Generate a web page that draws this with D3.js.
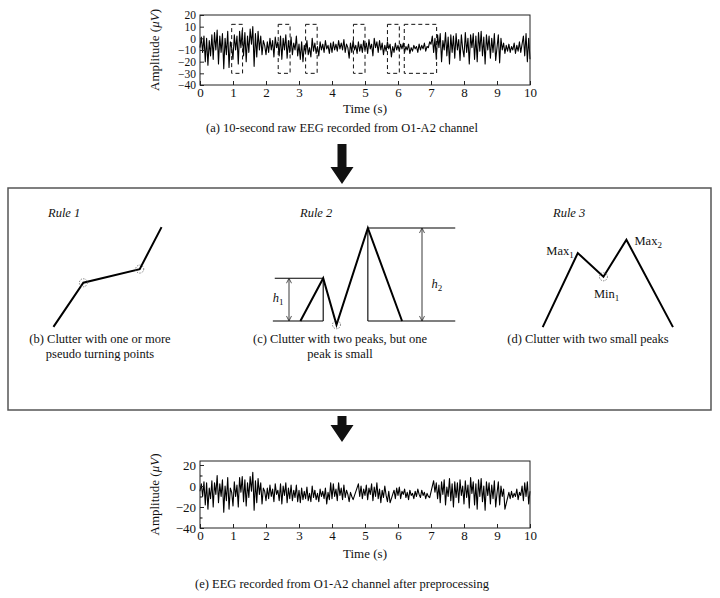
<!DOCTYPE html>
<html><head><meta charset="utf-8">
<script src="https://cdn.jsdelivr.net/npm/d3@7"></script>
<style>body{margin:0;background:#fff}</style>
</head><body>
<script>
// ---------- DATA ----------
const timeTicks = [0,1,2,3,4,5,6,7,8,9,10];
const rawYTicks = [-40,-30,-20,-10,0,10,20];
const cleanYTicks = [-40,-20,0,20];
const cleanYMinor = [-30,-10,10];
const sampleStep = 0.04; // seconds between samples

// (a) raw EEG, µV, one value per 0.04 s
const rawEEG = [
 -8, 1, -12, 2, -20, 0, -23, -2, -15, 3, -18, 5, -10, 7, -22, 2, -12, 4, -26, 0, -14, 6, -25, -3, -8,
 -18, 3, -10, 2, -22, 6, -8, 7, -15, 5, -20, 2, -12, 8, -5, 10, -24, 4, -16, 6, -10, 2, -14, -2, -6,
 -14, -3, -12, 0, -10, -2, -16, 1, -8, -3, -15, 2, -18, 0, -10, 3, -17, -2, -12, 1, -14, -4, -10, 2, -15,
 -5, -18, -3, -20, -6, -12, -2, -14, -8, -16, 0, -11, -4, -13, -7, -15, -3, -10, -5, -12, -2, -9, -6, -13, -4,
 -12, -3, -10, -5, -11, -2, -9, -4, -10, -1, -12, -5, -8, -17, -4, -12, -2, -10, -6, -13, -3, -11, -5, -12, -2,
 -10, -4, -13, -1, -9, -5, -15, 0, -8, -3, -12, -2, -10, -4, -14, -6, -11, -3, -9, -5, -16, -7, -12, -4, -10,
 -6, -11, -5, -9, -4, -12, -7, -10, -5, -13, -8, -11, -6, -9, -7, -12, -5, -10, -6, -9, -4, -11, -7, -8, -3,
 -5, 2, -12, 0, -18, 3, -8, 4, -20, -2, -10, 5, -15, 1, -22, 3, -12, 2, -17, 4, -10, -1, -19, 3, -9,
 -16, 5, -12, 0, -22, 3, -8, 4, -18, 2, -20, 5, -11, 6, -15, 1, -22, 3, -10, 2, -17, 0, -12, 4, -19,
 -8, 3, -21, 0, -10, -4, -13, -6, -11, -5, -12, -7, -10, -4, -13, -6, -11, -3, -12, -5, 2, -15, 4, -20, 0,
 -18
];

// clutter regions marked on the raw EEG (s) and their amplitude span (µV)
const clutterStart = [0.96, 2.37, 3.20, 4.65, 5.68, 6.19];
const clutterEnd   = [1.29, 2.73, 3.55, 5.00, 6.04, 7.17];
const clutterLow = -30, clutterHigh = 12;

// (e) preprocessed EEG, µV, one value per 0.04 s; null = sample removed
const cleanEEG = [
 -5, 2, -10, 4, -18, 3, -22, -2, -12, 5, -20, 3, -8, 10, -16, 2, -10, 6, -25, 0, -14, 8, -22, -2, -6,
 -19, 4, -10, 1, -20, 8, -6, 9, -15, 6, -19, 3, -11, 9, -5, 13, -23, 5, -16, 7, -8, 3, -17, -2, -5,
 -14, -2, -12, 1, -10, -3, -15, 2, -8, -4, -14, 2, -17, 0, -9, 3, -16, -2, -12, 1, -14, -4, -11, 1, -15,
 -4, -16, -2, -13, -5, -12, -1, -14, -7, -15, 0, -11, -4, -13, -7, -15, -3, -10, -5, -12, -2, -17, -6, -13, 3,
 -12, 2, -10, -3, -14, 3, -9, -2, -13, 1, -11, -4, -8, -15, -6, -10, -13, null, null, null, 2, -10, 0, -12, -3,
 -9, 1, -13, -2, -8, 2, -14, -1, -10, 3, -12, -3, -16, -4, -11, 0, -9, -15, -5, -16, null, null, -4, -12, -2,
 -9, -1, -12, -5, -8, -3, -11, -6, -13, -4, -9, -7, -12, -5, -10, -3, -8, -11, -4, -9, -6, -12, -7, -10, -11,
 null, null, 5, -6, 3, -12, 1, -16, 4, -8, 6, -18, -1, -10, 7, -14, 2, -20, 4, -11, 3, -16, 6, -9, 0,
 -17, 5, -11, 1, -21, 8, -7, 4, -18, 2, -22, 6, -10, 7, -15, 0, -23, 4, -9, 3, -17, 1, -12, 5, -20,
 -7, 4, -18, 0, -10, -3, -22, null, null, -6, -12, -5, -11, -7, -10, -3, -13, -6, -9, 0, -14, 3, -10, 4, -17,
 -5
];

// schematic rules, abstract units 0..10
const rule1Path = [[0.3,0.3],[2.9,4.5],[7.8,5.8],[9.7,9.8]];
const rule1Pseudo = [[2.9,4.5],[7.8,5.8]];
const rule2Zig = [[1.6,0],[2.8,4.6],[3.5,-0.4],[5.15,10],[6.95,0]];
const rule2Thin = [ [[0.15,0],[2.8,0]], [[0.25,4.6],[2.8,4.6]], [[2.8,0],[2.8,4.6]],
                    [[5.15,10],[9.75,10]], [[5.15,0],[9.75,0]], [[5.15,0],[5.15,10]] ];
const rule2Arrows = [ [1.0,0,4.6], [8.0,0,10] ];
const rule2Pseudo = [[3.5,-0.4]];
const rule3Path = [[0.2,0.3],[2.8,8.1],[4.7,5.6],[6.4,9.5],[9.85,0.3]];
const rule3Pseudo = [[4.7,5.6]];

// ---------- DRAW ----------
const W = 720, H = 598;
const serif = "'Liberation Serif','DejaVu Serif',serif";
const svg = d3.select("body").append("svg").attr("width", W).attr("height", H)
  .style("font-family", serif);

function eegChart(cfg) {
  const g = svg.append("g");
  const x = d3.scaleLinear([0,10],[cfg.x0, cfg.x1]);
  const y = d3.scaleLinear(cfg.yDomain,[cfg.yBottom, cfg.yTop]);
  const pts = cfg.values.map((v,i)=>({t:i*sampleStep, v})).filter(d=>d.v!==null);
  g.append("path").datum(pts)
    .attr("d", d3.line().x(d=>x(d.t)).y(d=>y(d.v)))
    .attr("fill","none").attr("stroke","#000").attr("stroke-width",1.1).attr("stroke-linejoin","round");
  g.append("rect").attr("x",x(0)).attr("y",cfg.yTop).attr("width",x(10)-x(0))
    .attr("height",cfg.yBottom-cfg.yTop).attr("fill","none").attr("stroke","#222").attr("stroke-width",1);
  const ax = g.append("g").attr("transform",`translate(0,${cfg.yBottom})`)
    .call(d3.axisBottom(x).tickValues(timeTicks).tickFormat(d3.format("d")).tickSize(-4).tickPadding(3));
  const ay = g.append("g").attr("transform",`translate(${x(0)},0)`)
    .call(d3.axisLeft(y).tickValues(cfg.yTicks).tickSize(-4).tickPadding(4));
  if (cfg.yMinor) {
    g.append("g").attr("transform",`translate(${x(0)},0)`)
      .call(d3.axisLeft(y).tickValues(cfg.yMinor).tickSize(-2.5).tickFormat(""))
      .select(".domain").remove();
  }
  ax.selectAll("text").style("font-size","13px");
  ay.selectAll("text").style("font-size",cfg.yTickSize+"px");
  [ax,ay].forEach(a=>{
    a.select(".domain").remove();
    a.selectAll("text").style("font-family",serif).attr("fill","#111");
    a.selectAll("line").attr("stroke","#222");
  });
  const yl = g.append("text").attr("transform",`translate(${cfg.x0-41},${(cfg.yTop+cfg.yBottom)/2}) rotate(-90)`)
    .attr("text-anchor","middle").style("font-size","13px").attr("fill","#111");
  yl.append("tspan").text("Amplitude (");
  yl.append("tspan").style("font-style","italic").text("\u03bcV");
  yl.append("tspan").text(")");
  g.append("text").attr("x",(cfg.x0+cfg.x1)/2).attr("y",cfg.timeY).attr("text-anchor","middle")
    .style("font-size","13px").attr("fill","#111").text("Time (s)");
  g.append("text").attr("x",342).attr("y",cfg.capY).attr("text-anchor","middle")
    .style("font-size","12.5px").attr("fill","#111").text(cfg.caption);
  return {g,x,y};
}

const rawChart = eegChart({x0:200,x1:530,yTop:15,yBottom:85,yDomain:[-40,20],yTicks:rawYTicks,yTickSize:11.5,
  values:rawEEG,timeY:113,capY:132,caption:"(a) 10-second raw EEG recorded from O1-A2 channel"});
rawChart.g.selectAll(".clutter").data(clutterStart).join("rect").attr("class","clutter")
  .attr("x",(d)=>rawChart.x(d)).attr("width",(d,i)=>rawChart.x(clutterEnd[i])-rawChart.x(d))
  .attr("y",rawChart.y(clutterHigh)).attr("height",rawChart.y(clutterLow)-rawChart.y(clutterHigh))
  .attr("fill","none").attr("stroke","#111").attr("stroke-width",1).attr("stroke-dasharray","4,3");

eegChart({x0:200,x1:530,yTop:461,yBottom:528,yDomain:[-40,23.8],yTicks:cleanYTicks,yMinor:cleanYMinor,yTickSize:13,
  values:cleanEEG,timeY:558,capY:588,caption:"(e) EEG recorded from O1-A2 channel after preprocessing"});

function bigArrow(cx, y0, y1) {
  const hw = 11.5, sw = 4.5, hl = 17;
  const p = d3.path();
  p.moveTo(cx-sw,y0); p.lineTo(cx+sw,y0); p.lineTo(cx+sw,y1-hl); p.lineTo(cx+hw,y1-hl);
  p.lineTo(cx,y1); p.lineTo(cx-hw,y1-hl); p.lineTo(cx-sw,y1-hl); p.closePath();
  svg.append("path").attr("d",p.toString()).attr("fill","#111");
}
bigArrow(342,144,184);
bigArrow(342,416,442);

svg.append("rect").attr("x",8).attr("y",188).attr("width",703).attr("height",222)
  .attr("fill","none").attr("stroke","#555").attr("stroke-width",1.5);

function panel(xr, yr) {
  return { x: d3.scaleLinear([0,10], xr), y: d3.scaleLinear([0,10], yr) };
}
const lineGen = (s)=>d3.line().x(d=>s.x(d[0])).y(d=>s.y(d[1]));
function pseudo(s, pts) {
  svg.selectAll(null).data(pts).join("circle").attr("cx",d=>s.x(d[0])).attr("cy",d=>s.y(d[1])).attr("r",4)
    .attr("fill","none").attr("stroke","#666").attr("stroke-width",0.9).attr("stroke-dasharray","1.3,1.3");
}
function txt(x,y,str,opt={}) {
  const t = svg.append("text").attr("x",x).attr("y",y).attr("text-anchor",opt.anchor||"start")
    .style("font-size",(opt.size||12.5)+"px").attr("fill","#111");
  if (opt.italic) t.style("font-style","italic");
  t.text(str); return t;
}
function subText(x,y,main,sub,opt={}) {
  const t = svg.append("text").attr("x",x).attr("y",y).attr("text-anchor",opt.anchor||"start")
    .style("font-size","12.5px").attr("fill","#111");
  const m = t.append("tspan").text(main); if (opt.italic) m.style("font-style","italic");
  t.append("tspan").attr("dy",3).style("font-size","9px").text(sub);
  return t;
}

// Rule 1
const s1 = panel([50,165],[330,225]);
svg.append("path").attr("d",lineGen(s1)(rule1Path)).attr("fill","none").attr("stroke","#000").attr("stroke-width",2);
pseudo(s1, rule1Pseudo);
txt(48,217,"Rule 1",{italic:true});
txt(100,343,"(b) Clutter with one or more",{anchor:"middle"});
txt(100,358,"pseudo turning points",{anchor:"middle"});

// Rule 2
const s2 = panel([270,460],[321,228]);
svg.append("defs").append("marker").attr("id","ah").attr("viewBox","0 0 10 10").attr("refX",9).attr("refY",5)
  .attr("markerWidth",7).attr("markerHeight",7).attr("orient","auto-start-reverse")
  .append("path").attr("d","M1,1 L9,5 L1,9").attr("fill","none").attr("stroke","#222").attr("stroke-width",1.2);
rule2Thin.forEach(seg=>{
  svg.append("path").attr("d",lineGen(s2)(seg)).attr("fill","none").attr("stroke","#000").attr("stroke-width",1.1);
});
rule2Arrows.forEach(a=>{
  svg.append("line").attr("x1",s2.x(a[0])).attr("x2",s2.x(a[0])).attr("y1",s2.y(a[1])).attr("y2",s2.y(a[2]))
    .attr("stroke","#222").attr("stroke-width",0.9).attr("marker-start","url(#ah)").attr("marker-end","url(#ah)");
});
svg.append("path").attr("d",lineGen(s2)(rule2Zig)).attr("fill","none").attr("stroke","#000").attr("stroke-width",2);
pseudo(s2, rule2Pseudo);
txt(300,217,"Rule 2",{italic:true});
subText(s2.x(0.15),s2.y(2.0),"h","1",{italic:true});
subText(s2.x(8.5),s2.y(3.6),"h","2",{italic:true});
txt(340,343,"(c) Clutter with two peaks, but one",{anchor:"middle"});
txt(340,358,"peak is small",{anchor:"middle"});

// Rule 3
const s3 = panel([540,675],[330,235]);
svg.append("path").attr("d",lineGen(s3)(rule3Path)).attr("fill","none").attr("stroke","#000").attr("stroke-width",2);
pseudo(s3, rule3Pseudo);
txt(553,217,"Rule 3",{italic:true});
subText(s3.x(2.5),s3.y(7.9),"Max","1",{anchor:"end"});
subText(s3.x(7.0),s3.y(8.9),"Max","2");
subText(s3.x(4.0),s3.y(3.4),"Min","1");
txt(588,343,"(d) Clutter with two small peaks",{anchor:"middle"});
</script>
</body></html>
